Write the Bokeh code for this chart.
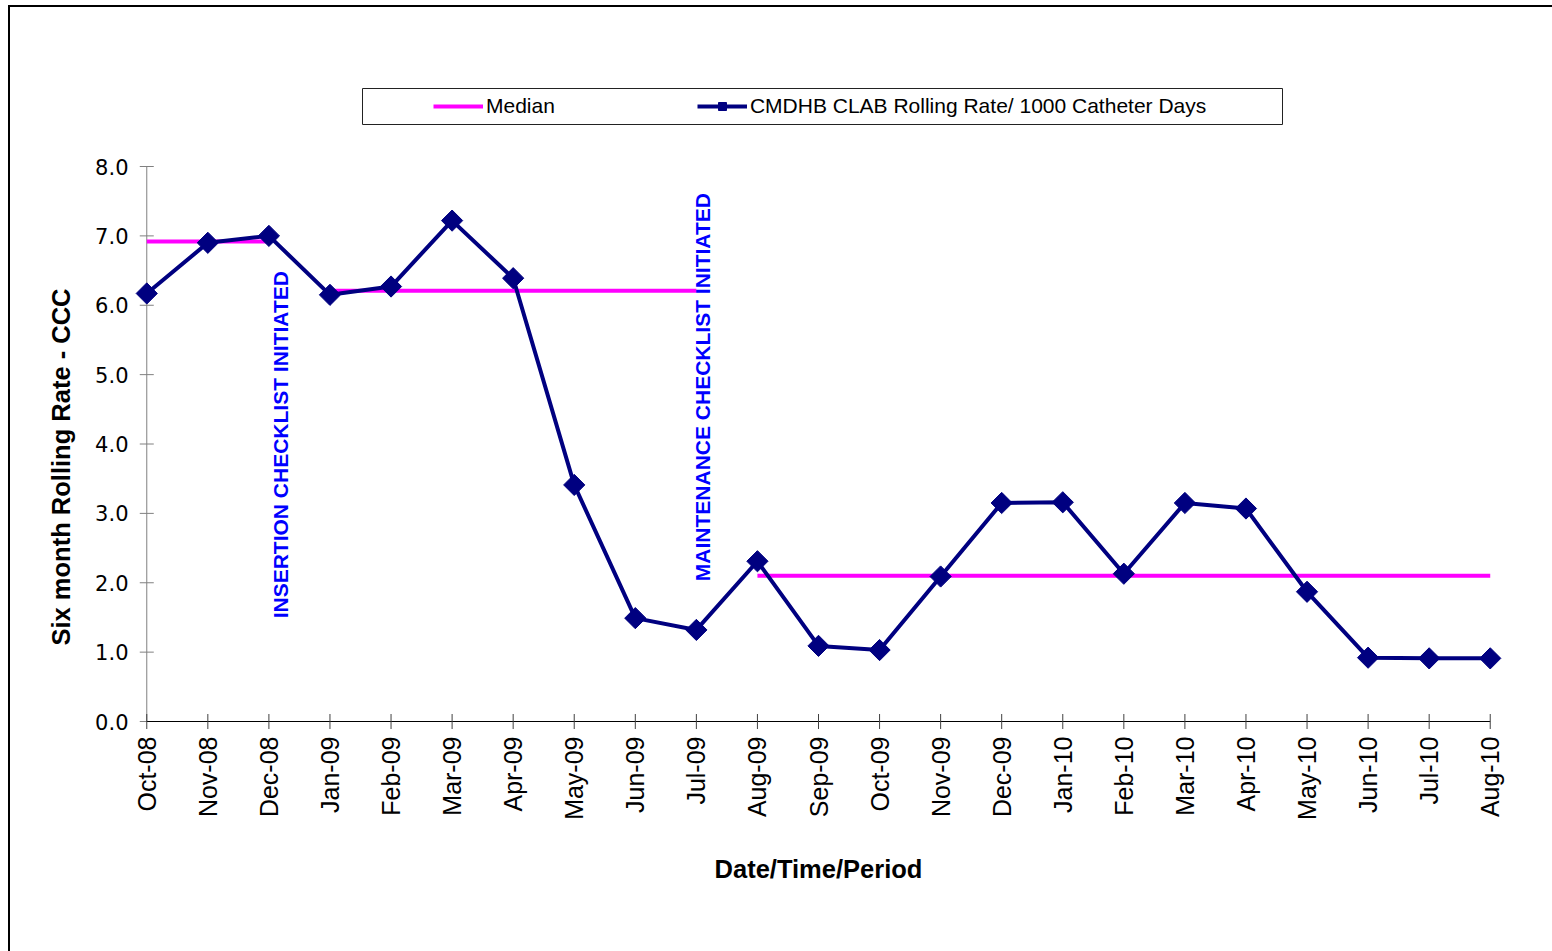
import math
from bokeh.plotting import figure
from bokeh.models import (Range1d, FixedTicker, Legend, LegendItem, Label, BoxAnnotation, Title)
from bokeh.embed import file_html
from bokeh.resources import INLINE

# ---- data ----
months = ["Oct-08", "Nov-08", "Dec-08", "Jan-09", "Feb-09", "Mar-09", "Apr-09", "May-09",
          "Jun-09", "Jul-09", "Aug-09", "Sep-09", "Oct-09", "Nov-09", "Dec-09", "Jan-10",
          "Feb-10", "Mar-10", "Apr-10", "May-10", "Jun-10", "Jul-10", "Aug-10"]
rates = [6.17, 6.90, 7.00, 6.15, 6.27, 7.22, 6.39, 3.41, 1.49, 1.32, 2.31, 1.09, 1.03,
         2.09, 3.15, 3.16, 2.13, 3.15, 3.07, 1.87, 0.92, 0.91, 0.91]
median_start = ["Oct-08", "Jan-09", "Aug-09"]
median_end = ["Dec-08", "Jul-09", "Aug-10"]
median_value = [6.92, 6.21, 2.10]
y_ticks = [0, 1, 2, 3, 4, 5, 6, 7, 8]
y_tick_labels = ["0.0", "1.0", "2.0", "3.0", "4.0", "5.0", "6.0", "7.0", "8.0"]

x_idx = list(range(len(months)))
n_last = len(months) - 1

OX, OY = 10, 7           # canvas offset in the page (room for the chart border)
FRAME_W, FRAME_H = 1374, 651
PPY = 69.375             # pixels per unit of rate
x_lo = -0.25
x_hi = n_last + 0.25
y_lo = -10 / PPY
y_hi = y_lo + FRAME_H / PPY

p = figure(frame_width=FRAME_W, frame_height=FRAME_H,
           x_range=Range1d(x_lo, x_hi), y_range=Range1d(y_lo, y_hi),
           min_border_left=121, min_border_right=1542 - 121 - FRAME_W,
           min_border_top=73, min_border_bottom=944 - 73 - FRAME_H,
           output_backend="svg", toolbar_location=None,
           background_fill_color="white", border_fill_color="white")
p.styles = {"margin-left": f"{OX}px", "margin-top": f"{OY}px",
            "outline": "2.5px solid black"}
p.outline_line_color = None
p.xgrid.visible = False
p.ygrid.visible = False

# Bokeh axes provide labels only; lines/ticks drawn at data zero below
p.xaxis.ticker = FixedTicker(ticks=x_idx)
p.xaxis.major_label_overrides = {i: m for i, m in enumerate(months)}
p.yaxis.ticker = FixedTicker(ticks=y_ticks)
p.yaxis.major_label_overrides = {t: l for t, l in zip(y_ticks, y_tick_labels)}
p.xaxis.bounds = (0, n_last)
p.yaxis.bounds = (y_ticks[0], y_ticks[-1])
for ax in (p.xaxis[0], p.yaxis[0]):
    ax.axis_line_color = None
    ax.major_tick_line_color = None
    ax.minor_tick_line_color = None
    ax.major_tick_in = 0
    ax.major_tick_out = 0
    ax.major_label_text_color = "black"
    ax.axis_label_text_color = "black"
    ax.axis_label_text_font = "Liberation Sans"
    ax.axis_label_text_font_style = "bold"
    ax.axis_label_text_font_size = "25.5px"

p.xaxis.major_label_orientation = math.pi / 2
p.yaxis.major_label_text_font = "DejaVu Sans"
p.yaxis.major_label_text_font_size = "21px"
p.yaxis.major_label_standoff = 3
p.xaxis.major_label_text_font = "Liberation Sans"
p.xaxis.major_label_text_font_size = "25px"
p.xaxis.major_label_standoff = 5

p.xaxis.axis_label = "Date/Time/Period"
p.xaxis.axis_label_standoff = 32

# y title in the left panel, shifted down like the reference
p.add_layout(Title(text="Six month Rolling Rate - CCC", align="left", offset=86,
                   standoff=35, text_font="Liberation Sans", text_font_style="bold",
                   text_font_size="25.5px", text_color="black"), "left")

# axis lines and tick marks
p.segment(x0=[0], y0=[y_ticks[0]], x1=[0], y1=[y_ticks[-1]], line_color="#808080", line_width=1)
p.scatter([0] * len(y_ticks), y_ticks, marker="dash", size=14, line_color="#808080", line_width=1)
p.segment(x0=[0], y0=[0], x1=[n_last], y1=[0], line_color="black", line_width=1)
p.scatter(x_idx, [0] * len(x_idx), marker="dash", size=15, angle=math.pi / 2,
          line_color="#404040", line_width=1)

# median segments
idx = {m: i for i, m in enumerate(months)}
med_r = p.segment(x0=[idx[m] for m in median_start], y0=median_value,
                  x1=[idx[m] for m in median_end], y1=median_value,
                  line_color="#FF00FF", line_width=4)

# series
line_r = p.line(x_idx, rates, line_color="#000080", line_width=4)
pt_r = p.scatter(x_idx, rates, marker="square", size=15, angle=math.pi / 4,
                 fill_color="#000080", line_color="#000080")

# annotations
p.add_layout(Label(x=2.19, y=3.99, text="INSERTION CHECKLIST INITIATED", angle=math.pi / 2,
                   text_align="center", text_baseline="middle",
                   text_font="Liberation Sans", text_font_style="bold",
                   text_font_size="21px", text_color="#0000FF"))
p.add_layout(Label(x=9.10, y=4.82, text="MAINTENANCE CHECKLIST INITIATED", angle=math.pi / 2,
                   text_align="center", text_baseline="middle",
                   text_font="Liberation Sans", text_font_style="bold",
                   text_font_size="21px", text_color="#0000FF"))

# legend
legend = Legend(items=[LegendItem(label="Median", renderers=[med_r]),
                       LegendItem(label="CMDHB CLAB Rolling Rate/ 1000 Catheter Days",
                                  renderers=[line_r, pt_r])],
                location=(293, 604), orientation="horizontal",
                glyph_width=50, glyph_height=20, label_standoff=3, spacing=142,
                padding=9, margin=0,
                border_line_alpha=0, background_fill_alpha=0,
                label_text_font="Liberation Sans", label_text_font_size="21px",
                label_text_color="black")
p.add_layout(legend, "center")

# legend box
p.add_layout(BoxAnnotation(left=362 - OX, right=1282 - OX, top=88 - OY, bottom=124 - OY,
                           left_units="canvas", right_units="canvas",
                           top_units="canvas", bottom_units="canvas",
                           fill_alpha=0, line_color="#222222", line_alpha=1.0,
                           line_width=1))

open("out.html", "w").write(file_html(p, INLINE))
